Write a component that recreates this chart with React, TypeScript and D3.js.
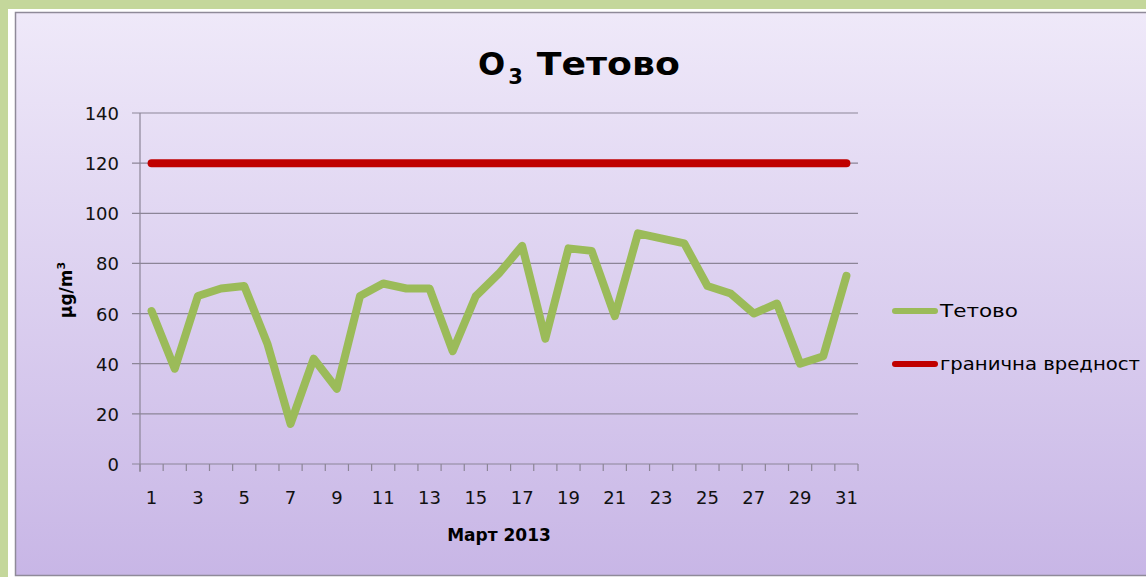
import React from "react";
import * as d3 from "d3";

const days: number[] = Array.from({ length: 31 }, (_, i) => i + 1);
const tetovo: number[] = [61, 38, 67, 70, 71, 48, 16, 42, 30, 67, 72, 70, 70, 45, 67, 76, 87, 50, 86, 85, 59, 92, 90, 88, 71, 68, 60, 64, 40, 43, 75];
const limitValue = 120;
const limit: number[] = days.map(() => limitValue);
const yTicks: number[] = [0, 20, 40, 60, 80, 100, 120, 140];
const xTickLabels: number[] = days.filter((d) => d % 2 === 1);
const seriesNames = ["Тетово", "гранична вредност"];
const seriesColors = ["#9BBB59", "#C00000"];

const W = 1146;
const H = 577;
const FONT = "'Comic Sans MS', 'DejaVu Sans', sans-serif";

export default function App() {
  const left = 140, right = 858, top = 113, bottom = 464;
  const x = d3.scaleBand<number>().domain(days).range([left, right]);
  const y = d3.scaleLinear().domain([0, 140]).range([bottom, top]);
  const cx = (d: number) => (x(d) as number) + x.bandwidth() / 2;
  const line = d3.line<number>().x((_, i) => cx(days[i])).y((v) => y(v));
  const tickBounds = [...days.map((d) => x(d) as number), right];

  return (
    <div style={{ position: "fixed", left: 0, top: 0, width: W, height: H }}>
      <svg width={W} height={H} style={{ display: "block" }}>
        <defs>
          <linearGradient id="bg" x1="0" y1="0" x2="0" y2="1">
            <stop offset="0%" stopColor="#efe9f9" />
            <stop offset="100%" stopColor="#c8b6e6" />
          </linearGradient>
        </defs>
        <rect x={0} y={0} width={W} height={H} fill="#c4d79b" />
        <rect x={8} y={9} width={W} height={H} fill="#ffffff" />
        <rect x={15.5} y={12.5} width={W} height={563} fill="url(#bg)" stroke="#8f8a99" strokeWidth={1.5} />

        {/* title */}
        <text x={478} y={75} fontFamily={FONT} fontWeight="bold" fontSize={32} fill="#000">
          O<tspan fontSize={21} dy={9} dx={3}>3</tspan>
          <tspan dy={-9} dx={14} textLength={143} lengthAdjust="spacingAndGlyphs">Тетово</tspan>
        </text>

        {/* gridlines */}
        {yTicks.map((t) => (
          <line key={t} x1={left - 8} x2={right} y1={y(t)} y2={y(t)} stroke="#8c8597" strokeWidth={1.2} />
        ))}
        {/* y axis */}
        <line x1={left} x2={left} y1={top} y2={bottom + 8} stroke="#8c8597" strokeWidth={1.2} />
        {/* x ticks */}
        {tickBounds.map((b, i) => (
          <line key={i} x1={b} x2={b} y1={bottom} y2={bottom + 7} stroke="#8c8597" strokeWidth={1.2} />
        ))}

        {yTicks.map((t) => (
          <text key={t} x={119} y={y(t) + 7} textAnchor="end" fontFamily={FONT} fontSize={18} fill="#111">
            {t}
          </text>
        ))}
        {xTickLabels.map((d) => (
          <text key={d} x={cx(d)} y={504} textAnchor="middle" fontFamily={FONT} fontSize={18} fill="#111">
            {d}
          </text>
        ))}

        <text x={499} y={541} textAnchor="middle" fontFamily={FONT} fontWeight="bold" fontSize={17} fill="#000">
          Март 2013
        </text>
        <text transform={`translate(72,290) rotate(-90)`} textAnchor="middle" fontFamily={FONT} fontWeight="bold" fontSize={17} fill="#000">
          μg/m<tspan fontSize={11} dy={-7}>3</tspan>
        </text>

        {/* series */}
        <path d={line(limit) || ""} fill="none" stroke={seriesColors[1]} strokeWidth={8} strokeLinecap="round" />
        <path d={line(tetovo) || ""} fill="none" stroke={seriesColors[0]} strokeWidth={8} strokeLinejoin="round" strokeLinecap="round" />

        {/* legend */}
        {seriesNames.map((n, i) => (
          <g key={n} transform={`translate(0,${311 + i * 53})`}>
            <line x1={895} x2={935} y1={0} y2={0} stroke={seriesColors[i]} strokeWidth={6} strokeLinecap="round" />
            <text x={940} y={6} fontFamily={FONT} fontSize={18} fill="#000" textLength={i === 0 ? 78 : 200} lengthAdjust="spacingAndGlyphs">{n}</text>
          </g>
        ))}
      </svg>
    </div>
  );
}
